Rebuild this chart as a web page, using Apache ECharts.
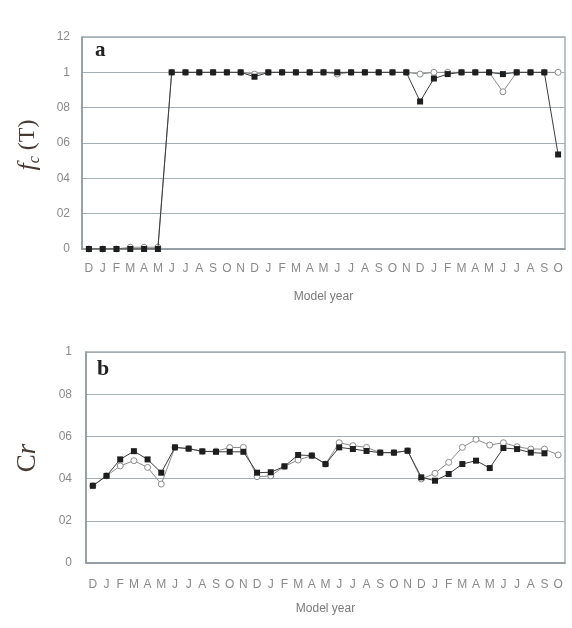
<!DOCTYPE html>
<html>
<head>
<meta charset="utf-8">
<script src="https://cdn.jsdelivr.net/npm/echarts@6/dist/echarts.min.js"></script>
<style>
  html, body { margin: 0; padding: 0; background: #fff; }
  #main { width: 572px; height: 628px; }
</style>
</head>
<body>
<div id="main"></div>
<script>
// months of the model run
var months = ['D','J','F','M','A','M','J','J','A','S','O','N',
              'D','J','F','M','A','M','J','J','A','S','O','N',
              'D','J','F','M','A','M','J','J','A','S','O'];

// panel a: fc(T)
var fcFilled = [0,0,0,0,0,0,1,1,1,1,1,1,0.975,1,1,1,1,1,1,1,1,1,1,1,0.835,0.965,0.99,1,1,1,0.99,1,1,1,0.535];
var fcOpen   = [0,0,0,0.01,0.01,0.01,1,1,1,1,1,1,0.99,1,1,1,1,1,0.99,1,1,1,1,1,0.99,1,1,1,1,1,0.89,1,1,1,1];

// panel b: Cr
var crFilled = [0.366,0.413,0.491,0.53,0.491,0.428,0.548,0.542,0.529,0.527,0.527,0.527,0.428,0.43,0.458,0.512,0.509,0.469,0.548,0.54,0.531,0.523,0.523,0.532,0.406,0.39,0.422,0.469,0.485,0.45,0.545,0.54,0.523,0.52,null];
var crOpen   = [0.366,0.413,0.46,0.485,0.453,0.374,0.548,0.542,0.529,0.53,0.547,0.548,0.409,0.413,0.458,0.488,0.509,0.469,0.57,0.556,0.548,0.523,0.523,0.532,0.398,0.425,0.477,0.548,0.586,0.559,0.57,0.551,0.54,0.54,0.512];

// tick labels as printed
var tickValsA = [0,0.2,0.4,0.6,0.8,1,1.2];
var tickTxtA  = ['0','02','04','06','08','1','12'];
var tickValsB = [0,0.2,0.4,0.6,0.8,1];
var tickTxtB  = ['0','02','04','06','08','1'];

var chart = echarts.init(document.getElementById('main'));

var gridCol = '#a3aeb5';
var labCol = '#8a8a8a';

function tickFmt(vals, txt) {
    return function (v) {
        for (var i = 0; i < vals.length; i++) {
            if (Math.abs(vals[i] - v) < 1e-6) return txt[i];
        }
        return '';
    };
}

function xAx(idx, margin, gap) {
    return {
        type: 'category', gridIndex: idx, data: months, boundaryGap: true,
        name: 'Model year', nameLocation: 'middle', nameGap: gap,
        nameTextStyle: { color: '#7a7a7a', fontSize: 12, fontFamily: 'Liberation Sans' },
        axisLine: { lineStyle: { color: '#8e979c', width: 1.5 } },
        axisTick: { inside: true, length: 4, interval: 0, lineStyle: { color: '#6e777c' } },
        axisLabel: { interval: 0, margin: margin, color: labCol, fontSize: 12, fontFamily: 'Liberation Sans' },
        splitLine: { show: false }
    };
}

function yAx(idx, max, vals, txt, margin) {
    return {
        type: 'value', gridIndex: idx, min: 0, max: max, interval: 0.2,
        axisLine: { show: true, lineStyle: { color: '#8e979c', width: 1.5 } },
        axisTick: { show: false },
        axisLabel: { margin: margin, color: labCol, fontSize: 12, fontFamily: 'Liberation Sans',
                     formatter: tickFmt(vals, txt) },
        splitLine: { lineStyle: { color: gridCol, width: 1.2 } }
    };
}

function openSeries(x, data) {
    return {
        type: 'line', xAxisIndex: x, yAxisIndex: x, data: data,
        symbol: 'circle', symbolSize: 6, showSymbol: true,
        lineStyle: { color: '#8c8c8c', width: 1 },
        itemStyle: { color: '#fff', borderColor: '#8c8c8c', borderWidth: 1 },
        z: 2
    };
}

function filledSeries(x, data) {
    return {
        type: 'line', xAxisIndex: x, yAxisIndex: x, data: data,
        symbol: 'rect', symbolSize: 6, showSymbol: true,
        lineStyle: { color: '#3c3c3c', width: 1 },
        itemStyle: { color: '#1e1e1e' },
        z: 3
    };
}

var option = {
    backgroundColor: '#fff',
    animation: false,
    grid: [
        { left: 82, top: 37, width: 483, height: 212, show: true, borderColor: '#a3aeb5', borderWidth: 1.5 },
        { left: 86, top: 352, width: 479, height: 211, show: true, borderColor: '#a3aeb5', borderWidth: 1.5 }
    ],
    xAxis: [xAx(0, 14, 42), xAx(1, 16, 40)],
    yAxis: [yAx(0, 1.2, tickValsA, tickTxtA, 12), yAx(1, 1, tickValsB, tickTxtB, 14)],
    series: [
        openSeries(0, fcOpen), filledSeries(0, fcFilled),
        openSeries(1, crOpen), filledSeries(1, crFilled)
    ],
    graphic: [
        { type: 'text', left: 95, top: 40, style: { text: 'a', font: 'bold 21px "Liberation Serif"', fill: '#222' } },
        { type: 'text', left: 97, top: 358, style: { text: 'b', font: 'bold 22px "Liberation Serif"', fill: '#222' } },
        { type: 'text', x: 28, y: 145, rotation: Math.PI / 2,
          style: { text: '{f|f}{c|c}{t| (T)}', align: 'center', verticalAlign: 'middle',
                   rich: {
                       f: { fontFamily: 'Liberation Serif', fontStyle: 'italic', fontSize: 26, fill: '#4a3a34', lineHeight: 30 },
                       c: { fontFamily: 'Liberation Serif', fontStyle: 'italic', fontSize: 16, fill: '#4a3a34', verticalAlign: 'bottom', lineHeight: 30, padding: [10, 0, 0, 0] },
                       t: { fontFamily: 'Liberation Serif', fontSize: 24, fill: '#4a3a34', lineHeight: 30 }
                   } } },
        { type: 'text', x: 28, y: 458, rotation: Math.PI / 2,
          style: { text: '{c|C}{r|r}', align: 'center', verticalAlign: 'middle',
                   rich: {
                       c: { fontFamily: 'Liberation Serif', fontSize: 27, fill: '#4a3a34' },
                       r: { fontFamily: 'Liberation Serif', fontStyle: 'italic', fontSize: 27, fill: '#4a3a34' }
                   } } }
    ]
};

chart.setOption(option);
</script>
</body>
</html>
